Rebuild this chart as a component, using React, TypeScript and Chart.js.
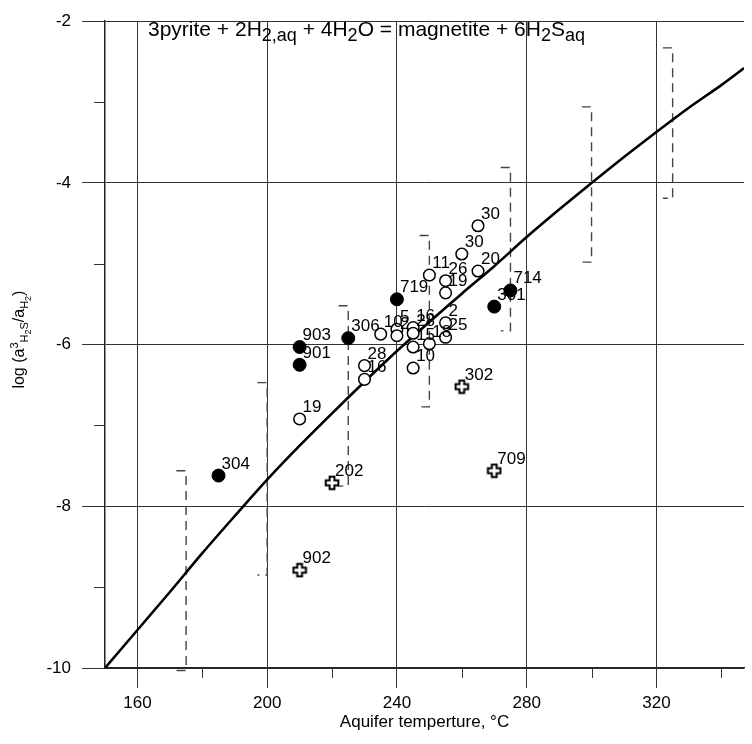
import React, { useEffect, useRef } from "react";
import { Chart, registerables } from "chart.js";
Chart.register(...registerables);

// ---- axis ticks ----
const xTicks = [160, 200, 240, 280, 320];
const xMinorTicks = [180, 220, 260, 300, 340];
const yTicks = [-10, -8, -6, -4, -2];
const yMinorTicks = [-9, -7, -5, -3];

// ---- equilibrium curve ----
const curveT = [150, 160, 170, 180, 190, 200, 210, 220, 230, 240, 250, 260, 270, 280, 290, 300, 310, 320, 330, 340, 347];
const curveLog = [-10, -9.53, -9.06, -8.58, -8.12, -7.67, -7.25, -6.85, -6.46, -6.08, -5.72, -5.37, -5.03, -4.67, -4.33, -4.0, -3.68, -3.37, -3.07, -2.79, -2.58];

// ---- filled circles ----
const filledT = [185, 210, 210, 225, 240, 270, 275];
const filledLog = [-7.62, -6.03, -6.25, -5.92, -5.44, -5.53, -5.33];
const filledLabels = ["304", "903", "901", "306", "719", "301", "714"];

// ---- crosses ----
const crossT = [220, 210, 260, 270];
const crossLog = [-7.71, -8.79, -6.52, -7.56];
const crossLabels = ["202", "902", "302", "709"];

// ---- open circles ----
const openT = [210, 230, 230, 235, 240, 240, 245, 245, 245, 245, 250, 255, 255, 250, 255, 255, 265, 265, 260];
const openLog = [-6.92, -6.26, -6.43, -5.87, -5.81, -5.89, -5.79, -5.86, -6.03, -6.29, -5.99, -5.73, -5.91, -5.14, -5.21, -5.36, -5.09, -4.53, -4.88];
const openLabels = ["19", "28", "16", "10", "5", "2", "16", "28", "15", "10", "18", "2", "25", "11", "26", "19", "20", "30", "30"];

// ---- dashed ranges ----
const rangeT = [175, 200, 225, 250, 275, 300, 325];
const rangeTop = [-7.56, -6.47, -5.52, -4.65, -3.81, -3.06, -2.33];
const rangeBottom = [-10.03, -8.85, -7.75, -6.77, -5.83, -4.98, -4.19];
const rangeCap = 3;

const FONT = '"Liberation Sans", Arial, sans-serif';

function makeCross(): HTMLCanvasElement {
  const c = document.createElement("canvas");
  c.width = 16;
  c.height = 16;
  const g = c.getContext("2d")!;
  const m = 8, h = 6.3, w = 2.4;
  g.beginPath();
  const pts = [
    [m - w, m - h], [m + w, m - h], [m + w, m - w], [m + h, m - w], [m + h, m + w], [m + w, m + w],
    [m + w, m + h], [m - w, m + h], [m - w, m + w], [m - h, m + w], [m - h, m - w], [m - w, m - w],
  ];
  pts.forEach(([x, y], i) => (i ? g.lineTo(x, y) : g.moveTo(x, y)));
  g.closePath();
  g.fillStyle = "#fff";
  g.fill();
  g.lineWidth = 2;
  g.strokeStyle = "#000";
  g.stroke();
  return c;
}

type Seg = { t: string; size: number; dy: number };

function drawSegs(ctx: CanvasRenderingContext2D, segs: Seg[], x: number, y: number) {
  let cx = x;
  segs.forEach((s) => {
    ctx.font = `${s.size}px ${FONT}`;
    ctx.fillText(s.t, cx, y + s.dy);
    cx += ctx.measureText(s.t).width;
  });
}
function segsWidth(ctx: CanvasRenderingContext2D, segs: Seg[]) {
  let w = 0;
  segs.forEach((s) => {
    ctx.font = `${s.size}px ${FONT}`;
    w += ctx.measureText(s.t).width;
  });
  return w;
}

const annotPlugin = {
  id: "annot",
  afterDatasetsDraw(chart: any) {
    const ctx: CanvasRenderingContext2D = chart.ctx;
    const xs = chart.scales.x;
    const ys = chart.scales.y;
    ctx.save();
    // minor ticks
    ctx.strokeStyle = "#333";
    ctx.lineWidth = 1;
    xMinorTicks.forEach((v) => {
      const px = Math.round(xs.getPixelForValue(v)) + 0.5;
      ctx.beginPath();
      ctx.moveTo(px, ys.bottom);
      ctx.lineTo(px, ys.bottom + 10);
      ctx.stroke();
    });
    yMinorTicks.forEach((v) => {
      const py = Math.round(ys.getPixelForValue(v)) + 0.5;
      ctx.beginPath();
      ctx.moveTo(xs.left, py);
      ctx.lineTo(xs.left - 11, py);
      ctx.stroke();
    });

    // point labels
    ctx.fillStyle = "#000";
    ctx.textAlign = "left";
    ctx.textBaseline = "alphabetic";
    ctx.font = `17px ${FONT}`;
    const groups: [number[], number[], string[]][] = [
      [filledT, filledLog, filledLabels],
      [crossT, crossLog, crossLabels],
      [openT, openLog, openLabels],
    ];
    groups.forEach(([T, L, lab]) => {
      T.forEach((t, i) => {
        ctx.fillText(lab[i], xs.getPixelForValue(t) + 3, ys.getPixelForValue(L[i]) - 7);
      });
    });

    // equation
    const eq: Seg[] = [
      { t: "3pyrite + 2H", size: 21, dy: 0 },
      { t: "2,aq", size: 18, dy: 5 },
      { t: " + 4H", size: 21, dy: 0 },
      { t: "2", size: 18, dy: 5 },
      { t: "O = magnetite + 6H", size: 21, dy: 0 },
      { t: "2", size: 18, dy: 5 },
      { t: "S", size: 21, dy: 0 },
      { t: "aq", size: 18, dy: 5 },
    ];
    drawSegs(ctx, eq, 148, 36);

    // x title
    ctx.font = `17px ${FONT}`;
    ctx.textAlign = "center";
    ctx.fillText("Aquifer temperture, °C", (xs.left + xs.right) / 2, 727);
    ctx.textAlign = "left";

    // y title (rotated)
    const yt: Seg[] = [
      { t: "log (a", size: 16, dy: 0 },
      { t: "3", size: 11, dy: -6 },
      { t: "H", size: 11, dy: 4 },
      { t: "2", size: 9, dy: 7 },
      { t: "S", size: 11, dy: 4 },
      { t: "/a", size: 16, dy: 0 },
      { t: "H", size: 11, dy: 4 },
      { t: "2", size: 9, dy: 7 },
      { t: ")", size: 16, dy: 0 },
    ];
    const w = segsWidth(ctx, yt);
    const cy = (ys.top + ys.bottom) / 2 - 5;
    ctx.translate(24, cy + w / 2);
    ctx.rotate(-Math.PI / 2);
    drawSegs(ctx, yt, 0, 0);
    ctx.restore();
  },
};

export default function App() {
  const ref = useRef<HTMLCanvasElement | null>(null);
  useEffect(() => {
    if (!ref.current) return;
    const cross = makeCross();
    const pts = (T: number[], L: number[]) => T.map((t, i) => ({ x: t, y: L[i] }));
    const rangeSets = rangeT.map((t, i) => ({
      data: [
        { x: t - rangeCap, y: rangeTop[i] },
        { x: t, y: rangeTop[i] },
        { x: t, y: rangeBottom[i] },
        { x: t - rangeCap, y: rangeBottom[i] },
      ],
      showLine: true,
      borderColor: "#444",
      borderWidth: 1.4,
      borderDash: [9, 6],
      pointRadius: 0,
      clip: false as any,
    }));
    const chart = new Chart(ref.current, {
      type: "scatter",
      data: {
        datasets: [
          {
            data: pts(crossT, crossLog),
            pointStyle: cross as any,
            pointRadius: 7,
          },
          {
            data: pts(filledT, filledLog),
            pointStyle: "circle",
            pointRadius: 6.5,
            backgroundColor: "#000",
            borderColor: "#000",
            borderWidth: 1,
          },
          {
            data: pts(openT, openLog),
            pointStyle: "circle",
            pointRadius: 5.8,
            backgroundColor: "#fff",
            borderColor: "#000",
            borderWidth: 1.5,
          },
          {
            data: pts(curveT, curveLog),
            showLine: true,
            borderColor: "#000",
            borderWidth: 2.6,
            pointRadius: 0,
            tension: 0.3,
          },
          ...rangeSets,
        ] as any,
      },
      options: {
        animation: false,
        responsive: false,
        events: [],
        layout: { padding: { top: 10, right: 0, left: 0, bottom: 0 } },
        plugins: { legend: { display: false }, tooltip: { enabled: false } },
        scales: {
          x: {
            type: "linear",
            min: 150,
            max: 347,
            afterBuildTicks: (s: any) => {
              s.ticks = xTicks.map((v) => ({ value: v }));
            },
            afterFit: (s: any) => {
              s.height = 76;
            },
            grid: { color: "#333", lineWidth: 1, drawTicks: true, tickLength: 20, tickColor: "#333" },
            border: { display: true, color: "#222", width: 1.5 },
            ticks: { color: "#000", font: { family: FONT, size: 17 }, padding: 5, maxRotation: 0 },
          },
          y: {
            type: "linear",
            min: -10,
            max: -2,
            afterBuildTicks: (s: any) => {
              s.ticks = yTicks.map((v) => ({ value: v }));
            },
            afterFit: (s: any) => {
              s.width = 105;
            },
            grid: { color: "#333", lineWidth: 1, drawTicks: true, tickLength: 23, tickColor: "#333" },
            border: { display: true, color: "#222", width: 1.5 },
            ticks: { color: "#000", font: { family: FONT, size: 17 }, padding: 11 },
          },
        },
      },
      plugins: [annotPlugin],
    });
    return () => chart.destroy();
  }, []);
  return (
    <div style={{ position: "absolute", left: 0, top: 0, width: 752, height: 744, background: "#fff" }}>
      <canvas ref={ref} width={752} height={744} />
    </div>
  );
}
